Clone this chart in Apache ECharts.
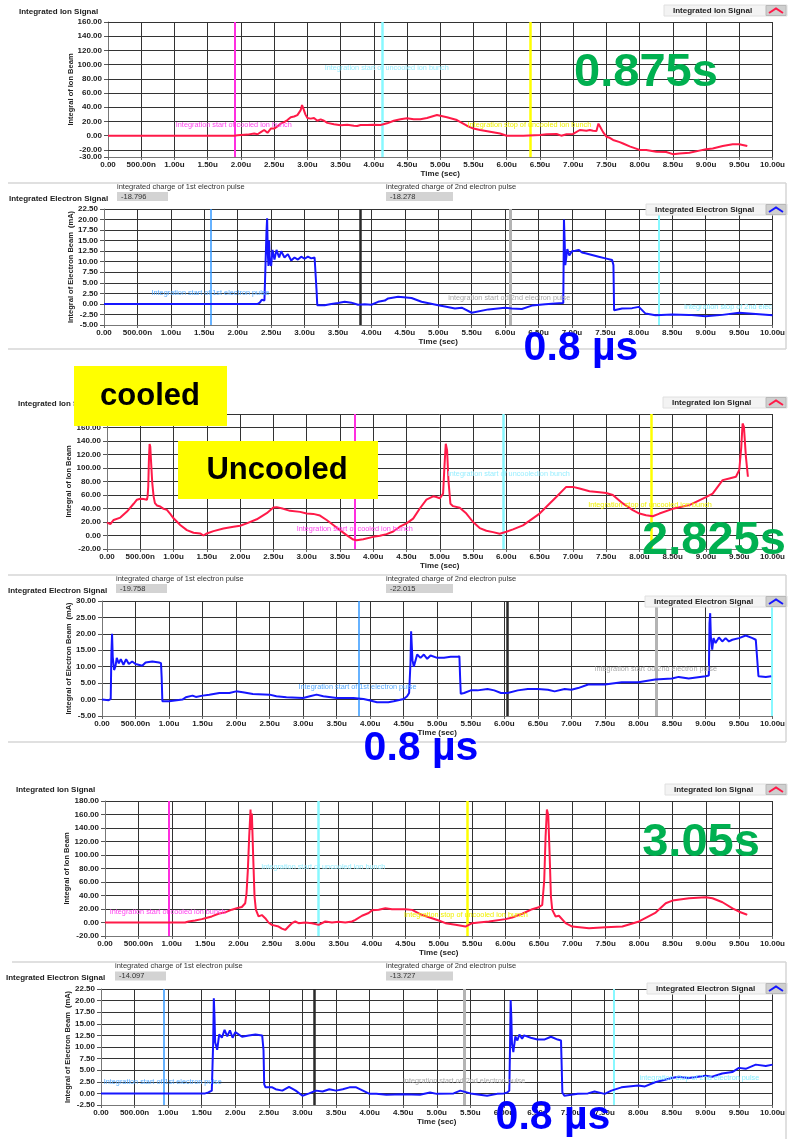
<!DOCTYPE html>
<html><head><meta charset="utf-8">
<script src="https://cdn.jsdelivr.net/npm/echarts@6/dist/echarts.min.js"></script>
<style>html,body{margin:0;padding:0;background:#fff}#c{width:788px;height:1139px}</style>
</head><body><div id="c"></div><script>
// ---------------- DATA (time in µs) ----------------
const ion1 = [[0,0],[1.9,0],[1.95,0.5],[2.0,1],[2.1,1.5],[2.2,3],[2.25,2],[2.3,5],[2.35,8],[2.4,4],[2.45,10],[2.5,10],[2.55,13],[2.6,17],[2.65,19],[2.7,22],[2.75,26],[2.8,27],[2.85,29],[2.88,31],[2.9,36],[2.92,43],[2.94,38],[2.97,30],[3.0,25],[3.05,24],[3.1,25],[3.15,21],[3.2,23],[3.25,21],[3.3,18],[3.4,16],[3.5,14.6],[3.6,15.5],[3.7,14],[3.75,13.6],[3.8,15],[3.9,15],[4.0,15.5],[4.1,15],[4.2,17.4],[4.3,21],[4.4,23],[4.5,24.5],[4.6,23],[4.7,23],[4.8,25],[4.95,29],[5.0,28],[5.1,26],[5.25,22],[5.4,14],[5.5,10],[5.6,8],[5.75,5.6],[5.9,3],[6.0,0],[6.25,0],[6.5,1],[6.6,2],[6.75,2.4],[6.82,0],[6.9,2],[7.0,2.4],[7.1,8],[7.2,7],[7.25,8],[7.3,7],[7.35,6.6],[7.38,17],[7.42,10],[7.45,5],[7.5,-1.4],[7.55,-3],[7.6,-6],[7.7,-9],[7.75,-11],[7.85,-15],[8.0,-20],[8.1,-20],[8.25,-22.6],[8.4,-23],[8.5,-26],[8.6,-25],[8.75,-24],[8.9,-21],[9.0,-19],[9.1,-18],[9.25,-14.6],[9.4,-12],[9.5,-12],[9.55,-13],[9.62,-14.6]];
const elec2 = [[0,0],[2.3,0],[2.33,0.3],[2.36,1],[2.4,0.8],[2.42,1],[2.43,17],[2.44,20.3],[2.45,12],[2.46,9],[2.47,15],[2.48,10],[2.5,9],[2.52,12.8],[2.55,10.5],[2.58,12.8],[2.62,11],[2.65,12.5],[2.7,11],[2.75,11.8],[2.8,10.3],[2.85,11],[2.9,10.5],[2.95,11.2],[3.0,10.7],[3.05,11.2],[3.1,10.8],[3.15,11],[3.17,10.6],[3.18,3],[3.19,-0.3],[3.3,-0.3],[3.4,0],[3.5,0.2],[3.6,0.5],[3.7,0.3],[3.8,-0.2],[3.9,-0.1],[4.0,-0.2],[4.1,0.5],[4.2,0.8],[4.25,1.3],[4.4,1.7],[4.6,1.4],[4.75,0.5],[5.0,-0.3],[5.1,-0.6],[5.25,-1.1],[5.35,-0.9],[5.5,-2.1],[5.75,-1.3],[6.0,-0.9],[6.1,-1.1],[6.25,-1.2],[6.4,-0.4],[6.6,-0.1],[6.75,0.1],[6.87,0.2],[6.88,20],[6.89,15],[6.9,9.2],[6.93,13],[6.96,11.5],[7.0,12.5],[7.05,12.6],[7.1,12.8],[7.15,12.2],[7.2,12],[7.3,11.6],[7.4,11.2],[7.5,10.8],[7.6,10.4],[7.62,9.2],[7.63,-1.5],[7.75,-1.1],[7.9,-1],[8.0,-0.7],[8.1,-2.3],[8.25,-2.7],[8.5,-2.5],[8.75,-2.6],[9.0,-2.9],[9.25,-2.6],[9.5,-2.1],[9.75,-2.4],[10.0,-2.7]];
const ion3 = [[0,19],[0.05,17],[0.1,23],[0.2,26.5],[0.3,35.5],[0.4,47],[0.45,53],[0.5,54.5],[0.55,54],[0.6,53],[0.61,58],[0.62,73],[0.63,113],[0.64,135.5],[0.65,132],[0.66,113],[0.68,78],[0.7,58],[0.72,48],[0.75,44.5],[0.8,43],[0.85,39.5],[0.9,38],[0.95,32],[1.0,25.5],[1.1,15.5],[1.2,8],[1.3,4],[1.4,3],[1.45,0],[1.5,3],[1.6,6.5],[1.75,10.5],[1.9,13],[2.0,14.5],[2.1,18],[2.25,24],[2.4,33],[2.5,41.5],[2.55,42],[2.65,39.5],[2.75,36.5],[2.9,35],[3.0,32.5],[3.1,32],[3.2,29.5],[3.3,23],[3.4,15.5],[3.5,8],[3.6,0.5],[3.7,-6],[3.75,-7],[3.85,-5.5],[4.0,-2],[4.1,-0.5],[4.2,2],[4.3,6],[4.4,13],[4.5,18],[4.6,25],[4.7,40],[4.8,53],[4.9,58],[4.95,57],[5.0,55],[5.05,62],[5.07,102],[5.09,136],[5.11,126],[5.13,82],[5.16,47],[5.2,43.5],[5.3,41],[5.4,32.5],[5.5,20],[5.6,11],[5.7,7],[5.8,5],[5.9,2.5],[5.93,0.5],[6.0,5.5],[6.1,9],[6.25,15],[6.5,32.5],[6.75,57],[6.9,72],[7.0,72],[7.1,69.5],[7.25,65.5],[7.4,64],[7.5,63],[7.6,60],[7.75,47.5],[7.9,37.5],[8.0,32.5],[8.1,30],[8.2,28.5],[8.3,32.5],[8.5,39.5],[8.75,45],[9.0,57],[9.1,62],[9.25,82],[9.35,84.5],[9.45,87],[9.5,97],[9.53,131],[9.55,166],[9.57,161],[9.6,116.5],[9.63,87]];
const elec4 = [[0,0],[0.1,-0.2],[0.13,0.2],[0.14,14],[0.15,20],[0.16,13],[0.18,9],[0.2,10],[0.22,12.7],[0.25,11],[0.28,12.3],[0.32,10.6],[0.36,12.3],[0.4,10.8],[0.45,11.6],[0.5,10.8],[0.6,10.3],[0.65,11.3],[0.75,11.6],[0.85,11.3],[0.88,11.1],[0.89,6.6],[0.9,-0.5],[1.0,-0.5],[1.2,0],[1.25,0.7],[1.35,1.2],[1.4,0.8],[1.5,1.2],[1.6,1.5],[1.75,2],[1.9,2],[2.0,2.5],[2.1,2.2],[2.25,1.7],[2.5,1.5],[2.6,1],[2.75,0.7],[3.0,0.5],[3.1,1],[3.2,1.5],[3.3,1],[3.5,0.5],[3.75,0.5],[3.9,0.2],[4.0,-0.3],[4.1,-0.8],[4.27,-0.8],[4.35,-0.5],[4.5,0.2],[4.55,1],[4.58,2],[4.6,11],[4.61,20.8],[4.63,12],[4.65,10],[4.7,13.7],[4.75,12.7],[4.8,13.7],[4.85,12.4],[4.9,13.4],[5.0,12.7],[5.1,12.7],[5.2,13],[5.3,13],[5.33,13.2],[5.34,7.1],[5.35,1.8],[5.4,2],[5.5,2.8],[5.6,2.8],[5.75,3.2],[5.85,2.8],[5.95,2],[6.05,2],[6.2,2.8],[6.35,3.2],[6.5,3.2],[6.65,3],[6.75,2.5],[6.9,3.2],[7.0,3],[7.1,3.5],[7.25,4.6],[7.5,4.6],[7.75,5.3],[8.0,5.3],[8.25,6.1],[8.5,6.4],[8.6,6.9],[8.75,6.4],[9.0,7.1],[9.05,7.3],[9.06,23.3],[9.07,26.3],[9.08,19.2],[9.1,15.2],[9.12,18.7],[9.15,17.2],[9.2,18.9],[9.25,17.7],[9.3,18.7],[9.35,17.7],[9.4,18.2],[9.5,18.7],[9.6,19.5],[9.7,18.7],[9.75,18.2],[9.77,18.7],[9.79,7.1],[9.8,6.8],[9.9,6.9],[9.98,7.1]];
const ion5 = [[0,0],[1.2,0],[1.25,1.5],[1.35,3],[1.45,5],[1.5,6.4],[1.6,9],[1.7,13],[1.8,15],[1.9,19],[2.0,22],[2.05,23],[2.1,28.5],[2.12,43],[2.14,78],[2.16,127],[2.18,167.5],[2.19,137],[2.2,161.5],[2.22,97.5],[2.24,38.5],[2.26,19],[2.3,9],[2.35,11],[2.4,6.4],[2.45,0],[2.5,-3.5],[2.6,-6],[2.65,-9],[2.7,-11],[2.75,-6],[2.8,-1],[2.85,1.5],[2.9,-1],[3.0,0],[3.1,-1],[3.2,-3.5],[3.3,1.5],[3.4,0],[3.5,1],[3.6,0],[3.7,1.5],[3.75,4],[3.85,10],[3.95,14],[4.0,18],[4.1,19],[4.2,21],[4.3,19.7],[4.5,19.7],[4.6,18.7],[4.75,11],[5.0,3],[5.1,-1],[5.25,-3.4],[5.4,-6],[5.5,-1],[5.6,0],[5.75,1.5],[6.0,5],[6.1,7.4],[6.25,13],[6.4,19.7],[6.5,22.7],[6.55,26],[6.58,63],[6.6,127],[6.62,167.5],[6.64,159],[6.66,102.5],[6.68,38.5],[6.7,18.7],[6.75,9],[6.8,10],[6.9,-1],[7.0,-6],[7.25,-8.4],[7.5,-7],[7.75,-6],[8.0,1.5],[8.25,14.8],[8.4,28.6],[8.5,32.5],[8.75,36],[9.0,37.4],[9.1,36],[9.25,30],[9.4,21],[9.5,16],[9.6,12.3],[9.62,11.3]];
const elec6 = [[0,0],[1.55,0],[1.6,0.2],[1.65,0.6],[1.67,10.7],[1.68,20.5],[1.69,16.5],[1.7,11],[1.73,9.4],[1.76,12.7],[1.8,12],[1.84,13.7],[1.88,12.3],[1.92,13.6],[1.96,12],[2.0,13.2],[2.1,12.2],[2.2,12.5],[2.3,12.7],[2.4,12.5],[2.42,9.3],[2.43,2],[2.45,1.3],[2.55,1.3],[2.6,0.9],[2.7,0.6],[2.8,1.4],[2.9,0.6],[3.0,-0.5],[3.1,0],[3.2,0.6],[3.3,0.4],[3.4,0.9],[3.5,0.6],[3.6,0.9],[3.7,1.3],[3.8,1.3],[3.9,0.6],[4.0,-0.1],[4.1,-0.1],[4.25,-0.3],[4.5,-0.2],[4.75,-0.3],[4.9,0.2],[5.0,-0.1],[5.25,0],[5.35,0.6],[5.5,0],[5.75,-0.5],[5.9,-0.1],[6.0,0],[6.05,0.2],[6.08,0.6],[6.09,9.3],[6.1,20.1],[6.11,16.5],[6.12,10.7],[6.14,8.9],[6.17,12.3],[6.2,11.4],[6.23,12.7],[6.27,11.8],[6.3,12.5],[6.4,12],[6.5,11.6],[6.6,11.6],[6.7,12.2],[6.8,11.6],[6.85,11.4],[6.86,5.8],[6.87,0.2],[6.9,-0.5],[7.0,-0.3],[7.1,-0.1],[7.25,0],[7.35,0.4],[7.5,-0.1],[7.6,0.6],[7.75,1.3],[8.0,1.7],[8.1,1.5],[8.25,2.4],[8.5,3.3],[8.6,3.6],[8.75,3.3],[9.0,3.8],[9.1,3.6],[9.25,4.3],[9.4,4.6],[9.5,5.5],[9.6,5.3],[9.75,6.2],[9.9,5.9],[10.0,6.2]];

// y tick values of the first ion plot (its scale bottom is -30)
const ion1Ticks = [-20,0,20,40,60,80,100,120,140,160];
const ion1Bottom = [-30];

// marker (cursor) times in µs
const markers1 = [1.90, 4.13, 6.36];
const markers2 = [1.60, 3.84, 6.07, 8.30];
const markers3 = [3.73, 5.96, 8.18];
const markers4 = [3.83, 6.05, 8.27, 9.99];
const markers5 = [0.965, 3.20, 5.42];
const markers6 = [0.94, 3.17, 5.41, 7.64];

// cursor annotation texts: [text, time, value]
const notes1 = [['Integration start of cooled ion bunch',1.02,15],['Integration start of uncooled ion bunch',3.26,95],['Integration stop of uncooled ion bunch',5.41,15]];
const notes2 = [['Integration start of 1st electron pulse',0.71,2.5],['integration start od 2nd electron pulse',5.15,1.5],['integration stop of 2nd elec',8.68,-0.7]];
const notes3 = [['Integration start of cooled ion bunch',2.85,9],['Integration start of uncooledion bunch',5.12,91],['Integration stop of uncooled ion bunch',7.23,45]];
const notes4 = [['Integration start of 1st electron pulse',2.93,3.7],['integration start od 2nd electron pulse',7.35,9.3]];
const notes5 = [['Integration start of cooled ion bunch',0.07,16],['Integration start of uncooled ion bunch',2.34,82],['Integration stop of uncooled ion bunch',4.48,11.5]];
const notes6 = [['Integration start of 1st electron pulse',0.04,2.4],['integration start od 2nd electron pulse',4.5,2.75],['integration stop of 2nd electron pulse',8.02,3.4]];

// integrated charge readouts
const charges2 = ['-18.796','-18.278'];
const charges4 = ['-19.758','-22.015'];
const charges6 = ['-14.097','-13.727'];

// overlay captions
const timeLabels = ['0.875s','2.825s','3.05s'];
const pulseLabel = '0.8 µs';

// ---------------- STYLES / LAYOUT ----------------
const FONT = '"Liberation Sans", Arial, sans-serif';
const RED = '#ff1a48', BLUE = '#1616ff';
const MAG = '#ff2ee0', CYN = '#88f8ff', YEL = '#ffff00', CBL = '#3399ff', DRK = '#2a2a2a', GRY = '#b4b4b4';
const ionMarkStyle = [[MAG,2],[CYN,2.5],[YEL,2.5]];
const elecMarkStyle = [[CBL,1.5],[DRK,2.5],[GRY,3],[CYN,2]];
const ionNoteColors = ['#ff44ee','#99eeff','#f0f000'];
const elecNoteColors = ['#55aaff','#aaaaaa','#88eeff'];
const GRIDC = '#333';

const panels = [
  {data:ion1, color:RED, marks:markers1, mstyle:ionMarkStyle, notes:notes1, ncol:ionNoteColors, top:22, h:135, left:108, w:670, min:-30, max:160, step:10, ion:true, yGap:33},
  {data:elec2, color:BLUE, marks:markers2, mstyle:elecMarkStyle, notes:notes2, ncol:elecNoteColors, top:209, h:116, left:104, w:674, min:-5, max:22.5, step:2.5, ion:false, yGap:29},
  {data:ion3, color:RED, marks:markers3, mstyle:ionMarkStyle, notes:notes3, ncol:ionNoteColors, top:414, h:135, left:107, w:671, min:-20, max:180, step:20, ion:true, yGap:34},
  {data:elec4, color:BLUE, marks:markers4, mstyle:elecMarkStyle, notes:notes4, ncol:elecNoteColors, top:601, h:115, left:102, w:675, min:-5, max:30, step:5, ion:false, yGap:29},
  {data:ion5, color:RED, marks:markers5, mstyle:ionMarkStyle, notes:notes5, ncol:ionNoteColors, top:801, h:135, left:105, w:674, min:-20, max:180, step:20, ion:true, yGap:34},
  {data:elec6, color:BLUE, marks:markers6, mstyle:elecMarkStyle, notes:notes6, ncol:elecNoteColors, top:989, h:116, left:101, w:678, min:-2.5, max:22.5, step:2.5, ion:false, yGap:29}
];

function fmtX(v){
  if (Math.abs(v) < 1e-9) return '0.00';
  if (v < 1) return (v*1000).toFixed(2) + 'n';
  return v.toFixed(2) + 'u';
}
const LBL = {fontSize:8, fontWeight:'bold', fontFamily:FONT, color:'#222'};

const grids = [], xAxes = [], yAxes = [], series = [];
panels.forEach((p, i) => {
  grids.push({left:p.left, top:p.top, width:p.w, height:p.h, containLabel:false});
  xAxes.push({
    gridIndex:i, type:'value', min:0, max:10, interval:0.5,
    axisLine:{show:true, onZero:false, lineStyle:{color:'#777'}},
    axisTick:{show:true, length:3, lineStyle:{color:'#666'}},
    axisLabel:Object.assign({formatter:fmtX, margin:4, hideOverlap:false}, LBL),
    splitLine:{show:true, lineStyle:{color:GRIDC, width:1}},
    name:'Time (sec)', nameLocation:'middle', nameGap:13,
    nameTextStyle:LBL
  });
  const first = i === 0;
  const yTick = {show:true, length:4, lineStyle:{color:'#555'}};
  const yLab = Object.assign({margin:6, hideOverlap:false, formatter: v => v.toFixed(2)}, LBL);
  if (first) { yTick.customValues = ion1Ticks; yLab.customValues = ion1Ticks; }
  yAxes.push({
    gridIndex:i, type:'value', position:'left', min:p.min, max:p.max, interval:p.step,
    axisLine:{show:true, onZero:false, lineStyle:{color:'#777'}},
    axisTick:yTick,
    axisLabel:yLab,
    splitLine:{show:!first, lineStyle:{color:GRIDC, width:1}},
    name: p.ion ? 'Integral of Ion Beam' : 'Integral of Electron Beam  (mA)',
    nameLocation:'middle', nameGap:p.yGap, nameMoveOverlap:false,
    nameTextStyle:Object.assign({}, LBL, {fontSize:7.5})
  });
  // horizontal grid of the first plot follows its custom tick values
  const hLines = first ? ion1Ticks.map(v => ({yAxis:v, lineStyle:{color:GRIDC, width:1, type:'solid'}})) : [];
  series.push({
    type:'line', xAxisIndex:i, yAxisIndex:i, data:p.data, showSymbol:false, symbol:'none',
    lineStyle:{color:p.color, width:2}, itemStyle:{color:p.color}, animation:false, z:3,
    markLine:{
      silent:true, symbol:'none', animation:false, z:2,
      label:{show:false},
      data:hLines.concat(p.marks.map((t, k) => ({xAxis:t, lineStyle:{color:p.mstyle[k][0], width:p.mstyle[k][1], type:'solid'}})))
    },
    markPoint:{
      silent:true, animation:false, symbol:'circle', symbolSize:0,
      data:p.notes.map((n, k) => ({
        coord:[n[1], n[2]], value:0,
        label:{show:true, position:'right', distance:0, formatter:n[0], color:p.ncol[k], fontSize:7.3, fontFamily:FONT}
      }))
    }
  });
});
// extra left axis on the first plot carrying only the bottom (-30) label
yAxes.push({
  gridIndex:0, type:'value', position:'left', offset:0, min:-30, max:160, interval:10,
  axisLine:{show:false}, splitLine:{show:false},
  axisTick:{show:true, length:4, customValues:ion1Bottom, lineStyle:{color:'#555'}},
  axisLabel:Object.assign({margin:6, customValues:ion1Bottom, formatter: v => v.toFixed(2)}, LBL)
});

// ---------------- GRAPHIC OVERLAYS ----------------
const g = [];
function txt(x, y, text, font, fill, align, vAlign, z){
  g.push({type:'text', z:z||50, style:{x, y, text, font, fill, align:align||'left', verticalAlign:vAlign||'middle'}});
}
function rect(x, y, w, h, fill, stroke, z, lw){
  g.push({type:'rect', z:z||40, shape:{x, y, width:w, height:h}, style:{fill, stroke:stroke||null, lineWidth:lw||1}});
}
function line(x1, y1, x2, y2, color, w){
  g.push({type:'line', z:10, shape:{x1, y1, x2, y2}, style:{stroke:color, lineWidth:w||1}});
}
function legendBox(x, y, w, label, color){
  rect(x, y, w, 11, '#f3f3f3', '#e0e0e0', 40);
  txt(x + 9, y + 6, label, 'bold 8px ' + FONT, '#222');
  rect(x + w - 21, y + 0.5, 20, 10, '#cfcfcf', '#b8b8b8', 41);
  g.push({type:'polyline', z:42, shape:{points:[[x+w-18,y+8],[x+w-11,y+3.5],[x+w-4,y+8]]}, style:{stroke:color, lineWidth:2, fill:null}});
}
function chargeBox(xs, yLab, yBox, vals){
  const labels = ['integrated charge of 1st electron pulse','integrated charge of 2nd electron pulse'];
  const widths = [51, 67];
  vals.forEach((v, k) => {
    txt(xs[k], yLab, labels[k], '7.5px ' + FONT, '#333');
    rect(xs[k], yBox, widths[k], 9, '#d3d3d3', null, 40);
    txt(xs[k] + 4, yBox + 4.5, v, '7.5px ' + FONT, '#333');
  });
}

// panel frames
[[183,349],[575,742]].forEach(([a,b]) => { line(8,a,786,a,'#d6d6d6',1.5); line(8,b,786,b,'#d6d6d6',1.5); line(786,a,786,b,'#d6d6d6',1.5); });
line(12,962,786,962,'#d6d6d6',1.5); line(786,962,786,1139,'#d6d6d6',1.5);

// titles
const TF = 'bold 8px ' + FONT;
txt(19, 12, 'Integrated Ion Signal', TF, '#222');
txt(9, 199, 'Integrated Electron Signal', TF, '#222');
txt(18, 404, 'Integrated Ion Signal', TF, '#222');
txt(8, 591, 'Integrated Electron Signal', TF, '#222');
txt(16, 790, 'Integrated Ion Signal', TF, '#222');
txt(6, 978, 'Integrated Electron Signal', TF, '#222');

// legends
legendBox(664, 5, 123, 'Integrated Ion Signal', RED);
legendBox(646, 204, 141, 'Integrated Electron Signal', BLUE);
legendBox(663, 397, 124, 'Integrated Ion Signal', RED);
legendBox(645, 596, 142, 'Integrated Electron Signal', BLUE);
legendBox(665, 784, 122, 'Integrated Ion Signal', RED);
legendBox(647, 983, 140, 'Integrated Electron Signal', BLUE);

// charge readouts
chargeBox([117, 386], 187, 192, charges2);
chargeBox([116, 386], 579, 584, charges4);
chargeBox([115, 386], 966, 971.5, charges6);

// yellow boxes
rect(74, 366, 153, 60, YEL, null, 80);
txt(150, 396, 'cooled', 'bold 31px ' + FONT, '#000', 'center', 'middle', 81);
rect(178, 441, 200, 58, YEL, null, 80);
txt(277, 470, 'Uncooled', 'bold 31px ' + FONT, '#000', 'center', 'middle', 81);

// big captions
const GF = 'bold 47px ' + FONT, GREEN = '#00b050';
txt(646, 73, timeLabels[0], GF, GREEN, 'center', 'middle', 85);
txt(714, 541, timeLabels[1], GF, GREEN, 'center', 'middle', 85);
txt(701, 843, timeLabels[2], GF, GREEN, 'center', 'middle', 85);
const BF = 'bold 41px ' + FONT, PB = '#0000ff';
txt(581, 349, pulseLabel, BF, PB, 'center', 'middle', 85);
txt(421, 749, pulseLabel, BF, PB, 'center', 'middle', 85);
txt(553, 1118, pulseLabel, BF, PB, 'center', 'middle', 85);

const chart = echarts.init(document.getElementById('c'), null, {renderer:'canvas'});
chart.setOption({
  animation:false,
  backgroundColor:'#ffffff',
  grid:grids, xAxis:xAxes, yAxis:yAxes, series:series,
  graphic:{elements:g}
});
</script></body></html>
